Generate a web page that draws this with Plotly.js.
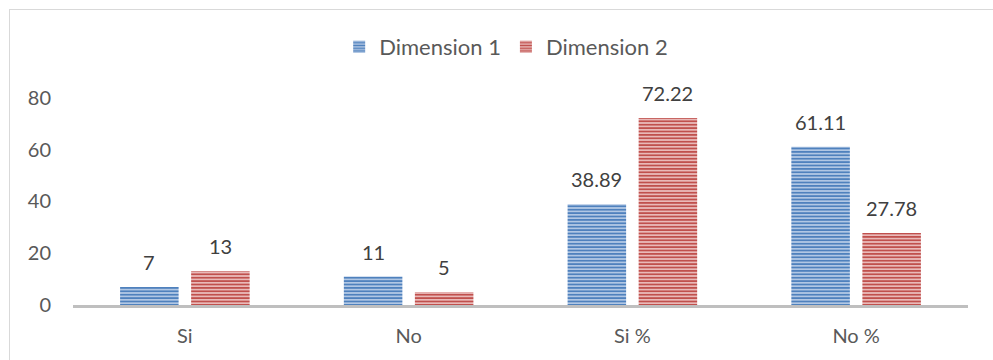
<!DOCTYPE html>
<html>
<head>
<meta charset="utf-8">
<script src="https://cdn.plot.ly/plotly-3.0.1.min.js"></script>
<style>
  html, body { margin: 0; padding: 0; background: #ffffff; }
  #frame { position: absolute; left: 9px; top: 9px; width: 1000px; height: 400px;
           border: 1px solid #d9d9d9; box-sizing: border-box; }
  #chart { position: absolute; left: 0; top: 0; width: 993px; height: 360px; }
</style>
</head>
<body>
<div id="frame"></div>
<div id="chart"></div>
<script>
// Categories and series values
const categories = ['Si', 'No', 'Si %', 'No %'];
const dimension1 = [7, 11, 38.89, 61.11];
const dimension2 = [13, 5, 72.22, 27.78];
const seriesNames = ['Dimension 1', 'Dimension 2'];
const yTicks = [0, 20, 40, 60, 80];

const fontFamily = 'Lato, "Open Sans", sans-serif';
const textColor = '#595959';

const W = 993, H = 360;
const margin = { l: 73, r: 25, t: 72, b: 55, pad: 0 };
const bargap = 0.365, bargroupgap = 0.176;

function stripedBar(name, values, base, stripe) {
  return {
    type: 'bar',
    name: name,
    x: categories,
    y: values,
    marker: {
      color: base,
      line: { width: 0 },
      pattern: { shape: '-', fillmode: 'replace', bgcolor: stripe, fgcolor: base,
                 size: 3.4, solidity: 0.6 }
    },
    hoverinfo: 'x+y+name'
  };
}

const data = [
  stripedBar(seriesNames[0], dimension1, '#4f81bd', '#c9d8ee'),
  stripedBar(seriesNames[1], dimension2, '#c0504d', '#f3d3d2')
];

// Value labels placed above each bar, offset to its slot within the group
const catWidth = (W - margin.l - margin.r) / categories.length;
const slot = catWidth * (1 - bargap) / 2;
const annotations = [];
[dimension1, dimension2].forEach((vals, s) => {
  const dx = (s === 0 ? -1 : 1) * slot / 2;
  vals.forEach((v, i) => {
    annotations.push({
      x: categories[i], y: v, xref: 'x', yref: 'y',
      text: String(v), showarrow: false,
      xanchor: 'center', yanchor: 'middle',
      xshift: dx, yshift: 25,
      font: { family: fontFamily, size: 20, color: '#404040' }
    });
  });
});

const layout = {
  width: W,
  height: H,
  paper_bgcolor: 'rgba(0,0,0,0)',
  plot_bgcolor: 'rgba(0,0,0,0)',
  margin: margin,
  font: { family: fontFamily, color: textColor, size: 20 },
  barmode: 'group',
  bargap: bargap,
  bargroupgap: bargroupgap,
  showlegend: true,
  legend: {
    orientation: 'h', x: 0.484, xanchor: 'center', y: 1.107, yanchor: 'middle',
    font: { family: fontFamily, size: 22, color: textColor },
    itemwidth: 30, tracegroupgap: 0
  },
  annotations: annotations,
  xaxis: {
    type: 'category',
    showline: true, linecolor: '#bfbfbf', linewidth: 3,
    ticks: '', showgrid: false, zeroline: false,
    tickfont: { family: fontFamily, size: 20, color: textColor },
    ticklabelstandoff: 11
  },
  yaxis: {
    range: [0, 90],
    tickvals: yTicks,
    ticktext: yTicks.map(String),
    showgrid: false, zeroline: false, showline: false, ticks: '',
    tickfont: { family: fontFamily, size: 20, color: textColor },
    ticklabelstandoff: 21
  }
};

Plotly.newPlot('chart', data, layout, { displayModeBar: false, staticPlot: true });
</script>
</body>
</html>
